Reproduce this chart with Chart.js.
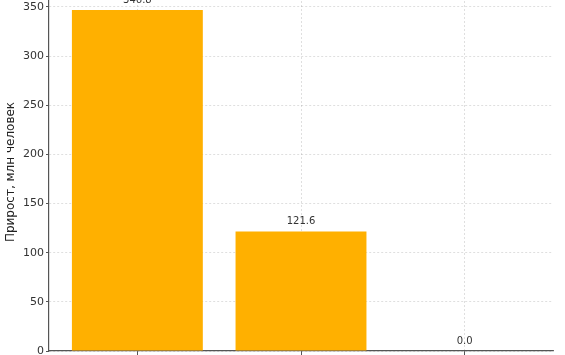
<!DOCTYPE html>
<html>
<head>
<meta charset="utf-8">
<script src="https://cdn.jsdelivr.net/npm/chart.js@4/dist/chart.umd.min.js"></script>
<style>
  html, body { margin: 0; padding: 0; background: #fff; overflow: hidden; }
  #wrap { position: absolute; left: 0; top: -20px; width: 565px; height: 400px; }
</style>
</head>
<body>
<div id="wrap"><canvas id="chart"></canvas></div>
<script>
// Data (x labels are cropped out of the picture)
const positions = [0, 1, 2];
const growth = [346.8, 121.6, 0.0];
const yTicks = [0, 50, 100, 150, 200, 250, 300, 350];
const yMax = 364.14; // 346.8 + 5% margin

const FONT = "'DejaVu Sans', sans-serif";
const GRID = 'rgba(0,0,0,0.16)';
const SPINE = '#555';

// value labels above bars
const valueLabels = {
  id: 'valueLabels',
  afterDatasetsDraw(chart) {
    const ctx = chart.ctx;
    const meta = chart.getDatasetMeta(0);
    ctx.save();
    ctx.font = '10px ' + FONT;
    ctx.fillStyle = '#333';
    ctx.textAlign = 'center';
    ctx.textBaseline = 'bottom';
    meta.data.forEach((bar, i) => {
      ctx.fillText(growth[i].toFixed(1), bar.x, bar.y - 5);
    });
    ctx.restore();
  }
};

new Chart(document.getElementById('chart'), {
  type: 'bar',
  data: {
    datasets: [{
      data: positions.map((x, i) => ({ x, y: growth[i] })),
      backgroundColor: '#FFB000',
      borderWidth: 0,
      barPercentage: 0.8,
      categoryPercentage: 1.0
    }]
  },
  options: {
    responsive: true,
    maintainAspectRatio: false,
    animation: false,
    layout: { padding: { top: 13, right: 12, left: 0, bottom: 0 } },
    plugins: { legend: { display: false }, tooltip: { enabled: false } },
    scales: {
      x: {
        type: 'linear',
        min: -0.54,
        max: 2.54,
        offset: false,
        z: 1,
        afterBuildTicks: (s) => { s.ticks = positions.map(v => ({ value: v })); },
        afterFit: (s) => { s.height = 29; },
        ticks: { callback: () => '', padding: 2 },
        grid: {
          offset: false,
          color: GRID, lineWidth: 0.8,
          tickLength: 4, tickColor: SPINE, tickBorderDash: [], tickWidth: 1
        },
        border: { display: true, color: SPINE, width: 1.2, dash: [2, 2] }
      },
      y: {
        min: 0,
        max: yMax,
        z: 1,
        afterBuildTicks: (s) => { s.ticks = yTicks.map(v => ({ value: v })); },
        afterFit: (s) => { s.width = 49; },
        ticks: { color: '#333', font: { family: FONT, size: 11 }, padding: 2 },
        grid: {
          color: GRID, lineWidth: 0.8,
          tickLength: 3, tickColor: SPINE, tickBorderDash: [], tickWidth: 1
        },
        border: { display: true, color: SPINE, width: 1.2, dash: [2, 2] },
        title: {
          display: true,
          text: 'Прирост, млн человек',
          color: '#222',
          font: { family: FONT, size: 12 },
          padding: { top: 4, bottom: 2 }
        }
      }
    }
  },
  plugins: [valueLabels]
});
</script>
</body>
</html>
